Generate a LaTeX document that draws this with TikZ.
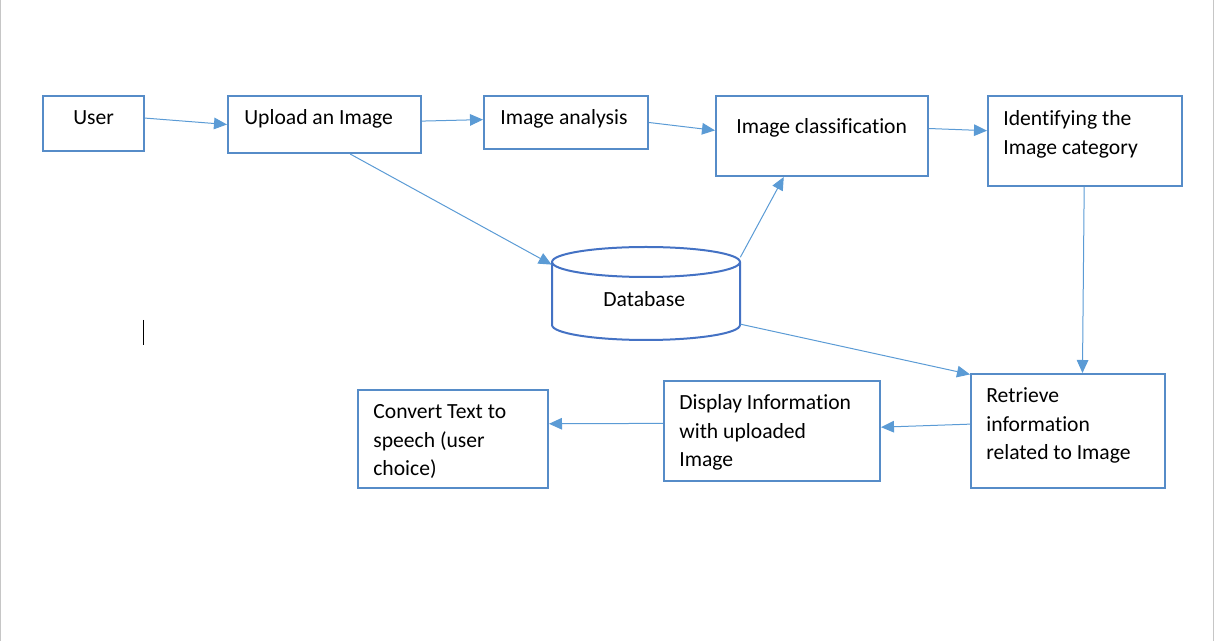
\documentclass[tikz,border=0pt]{standalone}
\usepackage{fontspec}
\setmainfont{Carlito}[Ligatures=CommonOff]
\usetikzlibrary{arrows.meta,fit}

\definecolor{boxblue}{RGB}{86,140,200}
\definecolor{dbblue}{RGB}{68,114,196}
\definecolor{arrowblue}{RGB}{91,155,213}

\begin{document}
\begin{tikzpicture}[x=0.02cm,y=-0.02cm,
  box/.style={draw=boxblue,line width=0.04cm,inner sep=0pt},
  txt/.style={inner sep=0pt,anchor=base west,align=left,font=\fontsize{12.3}{16.3}\selectfont},
  pfeil/.style={draw=arrowblue,line width=0.02cm,-{Triangle[length=7.4pt,width=6.6pt]}}]

\useasboundingbox (0,0) rectangle (1215,641);
%Rand
\draw[gray!45,line width=0.02cm] (0.5,0) -- (0.5,641);
\draw[gray!45,line width=0.02cm] (1213.5,0) -- (1213.5,641);
\draw[line width=0.02cm] (143,320) -- (143,345);

%obere Reihe
\node[box,fit={(43,96) (144,151)}] (user) {};
\node[box,fit={(228,96) (421,153)}] (upload) {};
\node[box,fit={(484,96) (648,149)}] (analysis) {};
\node[box,fit={(716,96) (928,176)}] (class) {};
\node[box,fit={(988,96) (1182,186)}] (ident) {};
\node[txt] (user-t) at (73,125) {User};
\node[txt] (upload-t) at (244,125) {Upload an Image};
\node[txt] (analysis-t) at (500,125) {Image analysis};
\node[txt] (class-t) at (736,134) {Image classification};
\node[txt] (ident-t) at (1003,154.5) {Identifying the\\Image category};

%Datenbank
\node[inner sep=0pt,fit={(552,247) (740,340)}] (db) {};
\draw[dbblue,line width=0.04cm] (646,262) ellipse [x radius=94, y radius=15];
\draw[dbblue,line width=0.04cm] (552,262) -- (552,325) .. controls (552,333.3) and (594.1,340) .. (646,340) .. controls (697.9,340) and (740,333.3) .. (740,325) -- (740,262);
\node[txt] (db-t) at (603,307) {Database};

%untere Reihe
\node[box,fit={(971,374) (1165,488)}] (retr) {};
\node[box,fit={(664,381) (880,481)}] (disp) {};
\node[box,fit={(358,390) (548,488)}] (conv) {};
\node[txt] (retr-t) at (986,460) {Retrieve\\information\\related to Image};
\node[txt] (disp-t) at (679,467) {Display Information\\with uploaded\\Image};
\node[txt] (conv-t) at (373,476) {Convert Text to\\speech (user\\choice)};

%Pfeile
\draw[pfeil] (user.6) -- (upload.180);
\draw[pfeil] (upload.2) -- (analysis.178);
\draw[pfeil] (analysis.0) -- (class.177);
\draw[pfeil] (class.4) -- (ident.174);
\draw[pfeil] (upload.-49) -- (db.163);
\draw[pfeil] (db.21) -- (class.-133);
\draw[pfeil] (db.-18) -- (retr.150);
\draw[pfeil] (ident.-91) -- (retr.76);
\draw[pfeil] (retr.176) -- (disp.2);
\draw[pfeil] (disp.176) -- (conv.9);
\end{tikzpicture}
\end{document}
